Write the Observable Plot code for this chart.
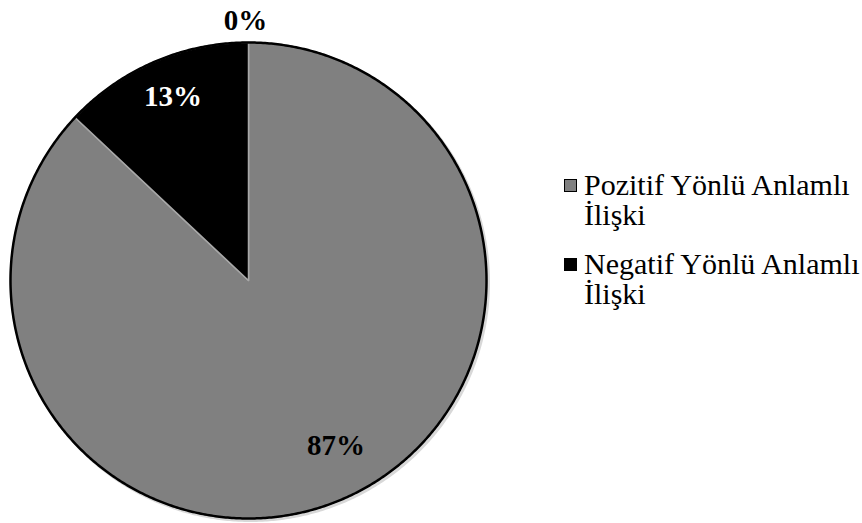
<!DOCTYPE html>
<html><head><meta charset="utf-8">
<script src="https://cdn.jsdelivr.net/npm/d3@7"></script>
<script src="https://cdn.jsdelivr.net/npm/@observablehq/plot@0.6"></script>
<style>
body{margin:0;background:#fff;}
#wrap{position:relative;width:862px;height:523px;overflow:hidden;}
#legend{position:absolute;left:564px;top:170px;width:298px;font-family:"Liberation Serif","Times New Roman",serif;font-size:30px;color:#000;}
.item{display:flex;align-items:flex-start;margin-bottom:19px;line-height:30px;}
.sw{width:11px;height:11px;border:1.5px solid #000;margin-top:9px;margin-right:7px;flex:none;}
</style></head><body><div id="wrap"></div>
<script>
const categories = ["Pozitif Yönlü Anlamlı İlişki", "Negatif Yönlü Anlamlı İlişki", "Diğer"];
const values = [87, 13, 0];
const labels = ["87%", "13%", "0%"];
const colors = ["#808080", "#000000", "#ffffff"];
const legendCategories = categories.slice(0, 2);

const rows = categories.map((c, i) => ({cat: c, value: values[i], label: labels[i], color: colors[i]}));
const arcs = d3.pie().sort(null).value(d => d.value).startAngle(0).endAngle(2 * Math.PI)(rows);

// polygon points for each slice (unit circle, y up, clockwise from 12 o'clock)
const slicePts = [];
for (const a of arcs) {
  if (a.endAngle - a.startAngle <= 0) continue;
  const n = Math.max(2, Math.ceil((a.endAngle - a.startAngle) / (Math.PI / 360)));
  slicePts.push({cat: a.data.cat, x: 0, y: 0});
  for (let k = 0; k <= n; k++) {
    const t = a.startAngle + (a.endAngle - a.startAngle) * k / n;
    slicePts.push({cat: a.data.cat, x: Math.sin(t), y: Math.cos(t)});
  }
  slicePts.push({cat: a.data.cat, x: 0, y: 0});
}
const ring = d3.range(0, 721).map(k => ({x: Math.sin(k * Math.PI / 360), y: Math.cos(k * Math.PI / 360)}));

const labelPts = arcs.map(a => {
  const m = (a.startAngle + a.endAngle) / 2;
  const r = a.data.value === 0 ? 1.1 : 0.8;
  return {cat: a.data.cat, label: a.data.label, value: a.data.value, x: r * Math.sin(m), y: r * Math.cos(m), color: a.data.color};
});

const cx = 248, cy = 280, R = 238;
const plot = Plot.plot({
  width: 862, height: 523, margin: 0,
  x: {domain: [-1, 1], range: [cx - R, cx + R], axis: null},
  y: {domain: [-1, 1], range: [cy + R, cy - R], axis: null},
  color: {domain: categories, range: colors},
  style: {background: "transparent", overflow: "visible"},
  marks: [
    Plot.line(ring, {x: "x", y: "y", stroke: "#d8d8d8", strokeWidth: 3, dx: 2, dy: 2}),
    Plot.line(slicePts, {x: "x", y: "y", z: "cat", fill: "cat", stroke: "#a8a8a8", strokeWidth: 1.5, curve: "linear"}),
    Plot.line(ring, {x: "x", y: "y", stroke: "#000", strokeWidth: 2.5}),
    Plot.text(labelPts, {filter: d => d.color === "#000000", x: "x", y: "y", text: "label", fill: "white",
      fontFamily: "Liberation Serif", fontWeight: "bold", fontSize: 29, dy: -9}),
    Plot.text(labelPts, {filter: d => d.color === "#808080", x: "x", y: "y", text: "label", fill: "black",
      fontFamily: "Liberation Serif", fontWeight: "bold", fontSize: 29, dx: 12, dy: -10}),
    Plot.text(labelPts, {filter: d => d.value === 0, x: "x", y: "y", text: "label", fill: "black",
      fontFamily: "Liberation Serif", fontWeight: "bold", fontSize: 29, dx: -3, dy: 2})
  ]
});
const wrap = document.getElementById("wrap");
wrap.appendChild(plot);

const legend = document.createElement("div");
legend.id = "legend";
legendCategories.forEach((c, i) => {
  const it = document.createElement("div");
  it.className = "item";
  const sw = document.createElement("div");
  sw.className = "sw";
  sw.style.background = colors[i];
  const tx = document.createElement("div");
  tx.textContent = c;
  it.appendChild(sw); it.appendChild(tx);
  legend.appendChild(it);
});
wrap.appendChild(legend);
</script>
</body></html>
